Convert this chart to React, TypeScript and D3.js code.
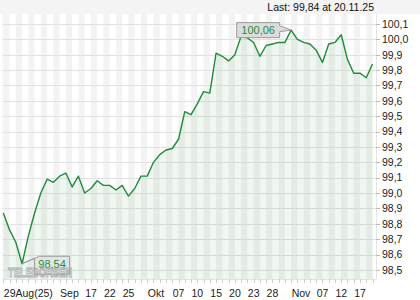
import React from "react";
import * as d3 from "d3";

const values: number[] = [
  98.87, 98.76, 98.68, 98.54, 98.72, 98.87, 99.0, 99.09, 99.07, 99.11,
  99.13, 99.04, 99.11, 99.0, 99.03, 99.08, 99.05, 99.05, 99.02, 99.05,
  98.98, 99.03, 99.11, 99.11, 99.2, 99.25, 99.28, 99.29, 99.35, 99.53,
  99.51, 99.58, 99.66, 99.65, 99.91, 99.89, 99.86, 99.9, 100.02, 100.01,
  99.98, 99.89, 99.96, 99.97, 99.98, 99.98, 100.06, 100.0, 99.98, 99.97,
  99.93, 99.85, 99.97, 99.98, 100.03, 99.87, 99.78, 99.78, 99.75, 99.84,
];

const tickIndex: number[] = [0, 9, 13, 16, 19, 23, 27, 30, 33, 36, 39, 42, 46, 50, 53, 56];
const tickLabels: string[] = [
  "29Aug(25)", "Sep", "17", "22", "25", "Okt", "07", "10", "15", "20", "23", "28", "Nov", "07", "12", "17",
];
const yTicks: number[] = [98.5, 98.6, 98.7, 98.8, 98.9, 99.0, 99.1, 99.2, 99.3, 99.4, 99.5, 99.6, 99.7, 99.8, 99.9, 100.0, 100.1];

const headerText = "Last: 99,84 at 20.11.25";
const minLabel = "98,54";
const maxLabel = "100,06";
const watermark = "TELEBÖRSEN";

const W = 420;
const H = 300;
const plotL = 2.5;
const plotR = 376;
const plotT = 14;
const plotB = 279;

const FONT = "'Liberation Sans', Arial, sans-serif";

export default function App() {
  const x = d3.scaleLinear().domain([0, values.length - 1]).range([3.3, 372.5]);
  const y = d3.scaleLinear().domain([98.5, 100.1]).range([269.9, 24]);

  const line = d3
    .line<number>()
    .x((_, i) => x(i))
    .y((d) => y(d));
  const area = d3
    .area<number>()
    .x((_, i) => x(i))
    .y0(plotB)
    .y1((d) => y(d));

  const fmt = (v: number) => v.toFixed(1).replace(".", ",");

  const minI = values.indexOf(d3.min(values) as number);
  const maxI = values.indexOf(d3.max(values) as number);
  const minX = x(minI);
  const minY = y(values[minI]);
  const maxX = x(maxI);
  const maxY = y(values[maxI]);

  const stripes = d3.range(0, values.length - 1, 2);

  const mbW = 43;
  const mbH = 15;
  const mbR = maxX - 11.5;
  const mbL = mbR - mbW;
  const mbT = maxY - 7.5;

  const nbL = minX + 12.5;
  const nbW = 35;
  const nbT = minY - 7.5;
  const nbH = 18;

  return (
    <svg
      width={W}
      height={H}
      style={{ position: "fixed", left: 0, top: 0, background: "#ffffff" }}
      fontFamily={FONT}
    >
      <rect x={0} y={0} width={W} height={H} fill="#ffffff" />
      <rect x={0} y={0} width={W} height={plotT} fill="#f4f4f4" />
      <text x={374} y={10.5} fontSize={10.5} textAnchor="end" fill="#111">
        {headerText}
      </text>

      {stripes.map((i) => (
        <rect
          key={"s" + i}
          x={x(i)}
          y={plotT}
          width={x(i + 1) - x(i)}
          height={plotB - plotT}
          fill="#f3f3f3"
        />
      ))}
      <rect x={plotL} y={plotT} width={x(0) - plotL} height={plotB - plotT} fill="#f3f3f3" />

      {yTicks.map((t) => (
        <line
          key={"g" + t}
          x1={plotL}
          x2={plotR}
          y1={Math.round(y(t)) + 0.5}
          y2={Math.round(y(t)) + 0.5}
          stroke="#e2e2e2"
          strokeWidth={1}
        />
      ))}

      <path d={area(values) || ""} fill="#2a8a3c" fillOpacity={0.07} />
      <path d={line(values) || ""} fill="none" stroke="#1f8b3a" strokeWidth={1.4} strokeLinejoin="round" />

      <line x1={plotR + 0.5} x2={plotR + 0.5} y1={plotT} y2={plotB} stroke="#e4e4e4" />
      <line x1={plotL} x2={plotR} y1={plotB + 0.5} y2={plotB + 0.5} stroke="#e4e4e4" />

      {yTicks.map((t) => (
        <g key={"y" + t}>
          <line x1={plotR} x2={plotR + 4} y1={Math.round(y(t)) + 0.5} y2={Math.round(y(t)) + 0.5} stroke="#bbb" />
          <text x={382} y={y(t) + 3.8} fontSize={10.5} fill="#222">
            {fmt(t)}
          </text>
        </g>
      ))}

      {values.map((_, i) => (
        <line
          key={"t" + i}
          x1={Math.round(x(i)) + 0.5}
          x2={Math.round(x(i)) + 0.5}
          y1={plotB}
          y2={plotB + 4}
          stroke="#cfcfcf"
        />
      ))}
      {tickIndex.map((ti, k) => (
        <text key={"xl" + k} x={x(ti) + 0.5} y={297} fontSize={10.5} fill="#222">
          {tickLabels[k]}
        </text>
      ))}

      <path
        d={`M${mbL},${mbT} L${mbR},${mbT} L${mbR},${mbT + 3} L${maxX},${maxY} L${mbR},${mbT + 9} L${mbR},${mbT + mbH} L${mbL},${mbT + mbH} Z`}
        fill="#dcdcdc"
        stroke="#9a9a9a"
        strokeWidth={1}
      />
      <text x={mbL + mbW / 2} y={mbT + 11.5} fontSize={11} textAnchor="middle" fill="#1f8b3a">
        {maxLabel}
      </text>

      <path
        d={`M${nbL},${nbT + 2} L${minX},${minY} L${nbL + 5},${nbT} L${nbL + nbW},${nbT} L${nbL + nbW},${nbT + nbH} L${nbL},${nbT + nbH} Z`}
        fill="#dcdcdc"
        fillOpacity={0.6}
        stroke="#9a9a9a"
        strokeWidth={1}
      />
      <text x={nbL + nbW / 2} y={nbT + 12} fontSize={11} textAnchor="middle" fill="#1f8b3a">
        {minLabel}
      </text>

      <text
        x={8}
        y={277}
        fontSize={12.5}
        fontWeight="bold"
        fill="none"
        stroke="#a8a8a8"
        strokeWidth={0.8}
        textLength={64}
        lengthAdjust="spacingAndGlyphs"
      >
        {watermark}
      </text>
    </svg>
  );
}
